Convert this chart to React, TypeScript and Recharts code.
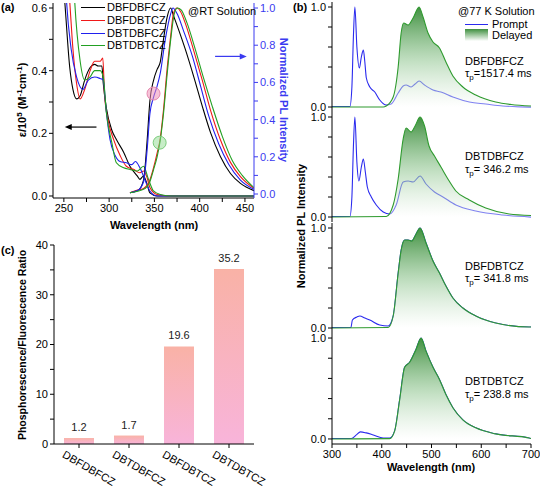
import React from "react";
import {
  LineChart,
  Line,
  XAxis,
  YAxis,
  ReferenceDot,
  ReferenceLine,
  ComposedChart,
  Area,
  BarChart,
  Bar,
  LabelList,
} from "recharts";

const FONT = "'Liberation Sans', Arial, Helvetica, sans-serif";

// ---- (a) absorption (left axis) ----
const absBFBF_x = [246, 251, 256.5, 260, 264, 268, 273, 279, 284, 288, 292, 293.5, 297, 303, 308, 316, 323, 331, 334, 338, 342, 345, 353, 370, 460];
const absBFBF_y = [0.8, 0.62, 0.41, 0.34, 0.31, 0.32, 0.37, 0.41, 0.42, 0.415, 0.415, 0.36, 0.28, 0.21, 0.18, 0.14, 0.095, 0.064, 0.053, 0.064, 0.037, 0.01, 0.0, 0.0, 0.0];
const absBFBT_x = [252, 256.5, 260, 264, 268, 273, 279, 284, 290, 293, 295, 299, 305, 312, 319, 327, 334, 338, 342, 345, 353, 370, 460];
const absBFBT_y = [0.8, 0.62, 0.47, 0.36, 0.31, 0.34, 0.4, 0.43, 0.43, 0.44, 0.32, 0.24, 0.18, 0.13, 0.095, 0.085, 0.074, 0.08, 0.058, 0.027, 0.005, 0, 0];
const absBTBF_x = [250, 253, 258, 264, 271, 277, 284, 290, 293.5, 296.5, 301, 306.5, 312, 319, 325, 329, 334, 340, 345, 353, 370, 460];
const absBTBF_y = [0.8, 0.62, 0.47, 0.38, 0.34, 0.37, 0.38, 0.375, 0.37, 0.28, 0.18, 0.13, 0.11, 0.106, 0.1, 0.11, 0.09, 0.048, 0.016, 0, 0, 0];
const absBTBT_x = [259, 262, 268, 273, 279, 284, 290, 293.5, 297, 303, 308, 316, 323, 331, 338, 343.5, 349, 356.5, 370, 460];
const absBTBT_y = [0.8, 0.62, 0.43, 0.37, 0.38, 0.4, 0.4, 0.38, 0.265, 0.17, 0.106, 0.09, 0.085, 0.08, 0.095, 0.053, 0.016, 0.005, 0, 0];

// ---- (a) emission (right axis) ----
const emBFBF_x = [323, 332, 338, 342, 345, 349, 353, 356.5, 360, 364, 368, 371, 377, 384, 393.5, 403, 412, 423, 434, 445, 460];
const emBFBF_y = [0.007, 0.02, 0.075, 0.29, 0.5, 0.61, 0.67, 0.71, 0.83, 0.95, 1.0, 0.96, 0.88, 0.78, 0.63, 0.47, 0.33, 0.2, 0.11, 0.057, 0.018];
const emBFBT_x = [323, 330.5, 338, 345, 349, 353, 356.5, 360, 364, 368, 371, 375, 379, 384, 393.5, 403, 412, 423, 434, 445, 460];
const emBFBT_y = [0.007, 0.02, 0.03, 0.075, 0.14, 0.22, 0.3, 0.45, 0.67, 0.85, 0.97, 1.0, 0.98, 0.92, 0.77, 0.61, 0.45, 0.29, 0.17, 0.093, 0.03];
const emBTBF_x = [323, 332, 338, 342, 345, 349, 353, 356.5, 362, 368, 370.5, 375, 382, 392, 401, 410, 421, 432, 445, 460];
const emBTBF_y = [0.007, 0.02, 0.066, 0.24, 0.43, 0.52, 0.58, 0.65, 0.83, 0.97, 1.0, 0.97, 0.88, 0.74, 0.58, 0.42, 0.27, 0.16, 0.075, 0.025];
const emBTBT_x = [323, 338, 345, 349, 353, 356.5, 360, 364, 368, 372, 375.5, 379.5, 386, 395, 404.5, 414, 425, 436, 447, 460];
const emBTBT_y = [0.007, 0.025, 0.066, 0.13, 0.2, 0.29, 0.43, 0.64, 0.83, 0.97, 1.0, 0.99, 0.92, 0.78, 0.62, 0.47, 0.31, 0.18, 0.1, 0.034];

const legendA = ["DBFDBFCZ", "DBFDBTCZ", "DBTDBFCZ", "DBTDBTCZ"];
const colorsA = ["#000000", "#f01818", "#2020ee", "#22a022"];

// ---- (b) 77 K prompt / delayed ----
const namesB = ["DBFDBFCZ", "DBTDBFCZ", "DBFDBTCZ", "DBTDBTCZ"];
const tauB = ["=1517.4 ms", "= 346.2 ms", "= 341.8 ms", "= 238.8 ms"];

const prompt1_x = [300, 336, 340, 343, 346, 350, 355, 359, 363, 366, 369, 376, 386, 396, 409, 419, 433, 443, 449, 459, 467, 475, 486, 503, 519, 543, 576, 609, 643, 700];
const prompt1_y = [0.005, 0.005, 0.2, 0.7, 1.0, 0.6, 0.39, 0.5, 0.57, 0.45, 0.29, 0.2, 0.15, 0.07, 0.02, 0.03, 0.14, 0.21, 0.22, 0.2, 0.23, 0.26, 0.22, 0.17, 0.15, 0.1, 0.05, 0.03, 0.01, 0.0];
const delayed1_x = [300, 403, 409, 423, 433, 439, 444, 453, 463, 475, 483, 493, 503, 516, 529, 543, 563, 589, 629, 660, 700];
const delayed1_y = [0, 0, 0.01, 0.1, 0.4, 0.74, 0.84, 0.82, 0.89, 1.0, 0.9, 0.74, 0.65, 0.59, 0.45, 0.31, 0.2, 0.12, 0.05, 0.025, 0.01];

const prompt2_x = [300, 336, 340, 343, 346, 350, 354, 359, 363, 367, 371, 379, 389, 403, 416, 429, 443, 453, 463, 477, 489, 506, 523, 549, 589, 643, 700];
const prompt2_y = [0.005, 0.005, 0.2, 0.7, 1.0, 0.55, 0.36, 0.5, 0.58, 0.45, 0.3, 0.2, 0.12, 0.05, 0.03, 0.12, 0.35, 0.36, 0.35, 0.41, 0.33, 0.25, 0.2, 0.12, 0.06, 0.02, 0.0];
const delayed2_x = [300, 409, 423, 433, 443, 449, 459, 467, 477, 486, 495, 506, 519, 533, 549, 576, 609, 656, 700];
const delayed2_y = [0, 0.005, 0.12, 0.38, 0.78, 0.89, 0.85, 0.91, 1.0, 0.91, 0.71, 0.61, 0.5, 0.38, 0.26, 0.17, 0.09, 0.03, 0.015];

const prompt3_x = [300, 338, 341, 350, 356, 366, 376, 396, 413, 423, 433, 439, 446, 453, 460, 468, 477, 489, 503, 516, 529, 543, 563, 589, 629, 696, 700];
const prompt3_y = [0.005, 0.005, 0.08, 0.11, 0.12, 0.1, 0.08, 0.03, 0.02, 0.12, 0.55, 0.78, 0.88, 0.88, 0.87, 0.93, 1.0, 0.85, 0.67, 0.55, 0.42, 0.3, 0.2, 0.12, 0.05, 0.01, 0.01];
const delayed3_x = [300, 413, 423, 433, 439, 446, 453, 460, 468, 477, 489, 503, 516, 529, 543, 563, 589, 629, 696, 700];
const delayed3_y = [0, 0.005, 0.12, 0.55, 0.78, 0.88, 0.88, 0.87, 0.93, 1.0, 0.85, 0.67, 0.55, 0.42, 0.3, 0.2, 0.12, 0.05, 0.01, 0.01];

const prompt4_x = [300, 339, 349, 357, 369, 383, 403, 416, 426, 436, 446, 456, 469, 479, 489, 503, 516, 529, 543, 563, 589, 629, 696, 700];
const prompt4_y = [0.005, 0.005, 0.04, 0.07, 0.06, 0.04, 0.01, 0.01, 0.08, 0.39, 0.71, 0.76, 0.89, 1.0, 0.87, 0.71, 0.59, 0.44, 0.31, 0.19, 0.11, 0.05, 0.01, 0.005];
const delayed4_x = [300, 416, 426, 436, 446, 456, 469, 479, 489, 503, 516, 529, 543, 563, 589, 629, 696, 700];
const delayed4_y = [0, 0.003, 0.08, 0.39, 0.71, 0.76, 0.89, 1.0, 0.87, 0.71, 0.59, 0.44, 0.31, 0.19, 0.11, 0.05, 0.01, 0.005];

// ---- (c) ratio bars ----
const namesC = ["DBFDBFCZ", "DBTDBFCZ", "DBFDBTCZ", "DBTDBTCZ"];
const ratiosC = [1.2, 1.7, 19.6, 35.2];

const zip = (xs: number[], ys: number[]) => xs.map((x, i) => ({ x, y: ys[i] }));

const absSeries = [zip(absBFBF_x, absBFBF_y), zip(absBFBT_x, absBFBT_y), zip(absBTBF_x, absBTBF_y), zip(absBTBT_x, absBTBT_y)];
const emSeries = [zip(emBFBF_x, emBFBF_y), zip(emBFBT_x, emBFBT_y), zip(emBTBF_x, emBTBF_y), zip(emBTBT_x, emBTBT_y)];
const promptB = [zip(prompt1_x, prompt1_y), zip(prompt2_x, prompt2_y), zip(prompt3_x, prompt3_y), zip(prompt4_x, prompt4_y)];
const delayedB = [zip(delayed1_x, delayed1_y), zip(delayed2_x, delayed2_y), zip(delayed3_x, delayed3_y), zip(delayed4_x, delayed4_y)];
const barData = namesC.map((name, i) => ({ name, ratio: ratiosC[i] }));

const BLUE_AX = "#3a3af0";
const PROMPT = "#2a2aee";
const DELAYED = "#2e9a2e";

function Txt({ x, y, children, size = 11, bold = false, color = "#000", rot = 0, center = false }: any) {
  return (
    <div
      style={{
        position: "absolute",
        left: x,
        top: y,
        transform: `translate(${center ? "-50%" : "0"}, -50%) rotate(${rot}deg)`,
        fontSize: size,
        fontWeight: bold ? "bold" : "normal",
        color,
        whiteSpace: "nowrap",
        lineHeight: 1,
      }}
    >
      {children}
    </div>
  );
}

const arrowShape = (color: string) => (p: any) => {
  const { x1, y1, x2, y2 } = p;
  const s = x2 > x1 ? 1 : -1;
  return (
    <g>
      <line x1={x1} y1={y1} x2={x2 - s * 4} y2={y2} stroke={color} strokeWidth={1.2} />
      <polygon points={`${x2},${y2} ${x2 - s * 7},${y2 - 3} ${x2 - s * 7},${y2 + 3}`} fill={color} />
    </g>
  );
};

const tickA = (v: number) => (v % 50 === 0 ? String(v) : "");
const tickL = (v: number) => (Math.round(v * 10) % 2 === 0 ? v.toFixed(1) : "");

function PanelA() {
  return (
    <div style={{ position: "absolute", left: 0, top: 0 }}>
      <LineChart width={300} height={240} margin={{ top: 3, right: 16, bottom: 22, left: 0 }}>
        <XAxis xAxisId="b" type="number" dataKey="x" domain={[238, 460]} allowDataOverflow ticks={[250, 275, 300, 325, 350, 375, 400, 425, 450]} interval={0} tickFormatter={tickA} tickSize={4} height={20} stroke="#000" tick={{ fontSize: 11, fill: "#000" }} />
        <XAxis xAxisId="t" orientation="top" type="number" domain={[238, 460]} height={0} tick={false} tickLine={false} stroke="#000" />
        <YAxis yAxisId="L" type="number" domain={[-0.0064, 0.616]} allowDataOverflow ticks={[0, 0.1, 0.2, 0.3, 0.4, 0.5, 0.6]} interval={0} tickFormatter={tickL} tickSize={4} width={53} stroke="#000" tick={{ fontSize: 11, fill: "#000" }} />
        <YAxis yAxisId="R" orientation="right" type="number" domain={[-0.0215, 1.027]} allowDataOverflow ticks={[0, 0.1, 0.2, 0.3, 0.4, 0.5, 0.6, 0.7, 0.8, 0.9, 1.0]} interval={0} tickFormatter={tickL} tickSize={4} width={30} stroke={BLUE_AX} tick={{ fontSize: 11, fill: BLUE_AX }} />
        {absSeries.map((d, i) => (
          <Line key={"a" + i} xAxisId="b" yAxisId="L" data={d} dataKey="y" type="monotone" stroke={colorsA[i]} strokeWidth={1.1} dot={false} isAnimationActive={false} />
        ))}
        {emSeries.map((d, i) => (
          <Line key={"e" + i} xAxisId="b" yAxisId="R" data={d} dataKey="y" type="monotone" stroke={colorsA[i]} strokeWidth={1.1} dot={false} isAnimationActive={false} />
        ))}
        <ReferenceDot xAxisId="b" yAxisId="R" x={349} y={0.54} r={6.5} fill="#f090b8" fillOpacity={0.55} stroke="#e58ab0" />
        <ReferenceDot xAxisId="b" yAxisId="R" x={355.8} y={0.276} r={6.5} fill="#8fdc8f" fillOpacity={0.5} stroke="#7ccc7c" />
        <ReferenceLine xAxisId="b" yAxisId="L" segment={[{ x: 286, y: 0.22 }, { x: 251, y: 0.22 }]} shape={arrowShape("#000")} />
        <ReferenceLine xAxisId="b" yAxisId="R" segment={[{ x: 417, y: 0.74 }, { x: 452, y: 0.74 }]} shape={arrowShape(BLUE_AX)} />
      </LineChart>
    </div>
  );
}

const bTops = [2, 112, 223, 333];
const tickB = (v: number) => (v === 0 ? "0.0" : v === 1 ? "1.0" : "");
const tickX = (v: number) => (v % 100 === 0 ? String(v) : "");

function PanelBSub({ i }: { i: number }) {
  const last = i === 3;
  const plotH = last ? 111 : 110;
  return (
    <div style={{ position: "absolute", left: 290, top: bTops[i] - 1 }}>
      <ComposedChart width={250} height={plotH + 1 + (last ? 20 : 0)} data={delayedB[i]} margin={{ top: 1, right: 9, bottom: 0, left: 0 }}>
        <defs>
          <linearGradient id={`delayedFill${i}`} x1="0" y1="0" x2="0" y2="1">
            <stop offset="0%" stopColor="#2f862f" stopOpacity={0.92} />
            <stop offset="55%" stopColor="#9ccc9c" stopOpacity={0.6} />
            <stop offset="100%" stopColor="#ffffff" stopOpacity={0.4} />
          </linearGradient>
        </defs>
        {last ? (
          <XAxis xAxisId="b" type="number" dataKey="x" domain={[300, 700]} allowDataOverflow ticks={[300, 350, 400, 450, 500, 550, 600, 650, 700]} interval={0} tickFormatter={tickX} tickSize={4} height={20} stroke="#000" tick={{ fontSize: 11, fill: "#000" }} />
        ) : (
          <XAxis xAxisId="b" type="number" dataKey="x" domain={[300, 700]} allowDataOverflow height={0} tick={false} tickLine={false} stroke="#555" />
        )}
        <XAxis xAxisId="t" orientation="top" type="number" domain={[300, 700]} height={0} tick={false} tickLine={false} stroke="#555" />
        <YAxis yAxisId="l" type="number" domain={[-0.05, 1.05]} ticks={[0, 0.2, 0.4, 0.6, 0.8, 1]} interval={0} tickFormatter={tickB} tickSize={4} width={42} stroke="#000" tick={{ fontSize: 11, fill: "#000" }} />
        <YAxis yAxisId="r" orientation="right" type="number" domain={[-0.05, 1.05]} width={0} tick={false} tickLine={false} stroke="#000" />
        <Line xAxisId="b" yAxisId="l" data={promptB[i]} dataKey="y" type="monotone" stroke={PROMPT} strokeWidth={1.1} dot={false} isAnimationActive={false} zIndex={350} />
        <Area xAxisId="b" yAxisId="l" dataKey="y" type="monotone" baseValue={0} stroke={DELAYED} strokeWidth={1.1} fill={`url(#delayedFill${i})`} fillOpacity={1} dot={false} isAnimationActive={false} zIndex={450} />
      </ComposedChart>
    </div>
  );
}

const RotTick = (props: any) => {
  const { x, y, payload } = props;
  const cx = x + 10;
  const cy = y + 18;
  return (
    <text x={cx} y={cy} textAnchor="middle" dominantBaseline="central" fontSize={11} fill="#000" transform={`rotate(30 ${cx} ${cy})`}>
      {payload.value}
    </text>
  );
};

const tickC = (v: number) => (v % 10 === 0 ? String(v) : "");

function PanelC() {
  return (
    <div style={{ position: "absolute", left: 0, top: 240 }}>
      <BarChart width={300} height={247} data={barData} margin={{ top: 5, right: 46, bottom: 1, left: 0 }} barCategoryGap="20%" style={{ overflow: "visible" }}>
        <defs>
          <linearGradient id="pinkBar" x1="0" y1="0" x2="0" y2="1">
            <stop offset="0%" stopColor="#f9b2a6" />
            <stop offset="100%" stopColor="#f8b4da" />
          </linearGradient>
        </defs>
        <XAxis dataKey="name" height={42} tick={<RotTick />} tickSize={4} stroke="#000" interval={0} />
        <XAxis xAxisId="t" dataKey="name" orientation="top" height={0} tick={false} tickLine={false} stroke="#000" />
        <YAxis type="number" domain={[0, 40]} ticks={[0, 5, 10, 15, 20, 25, 30, 35, 40]} interval={0} tickFormatter={tickC} tickSize={4} width={54} stroke="#000" tick={{ fontSize: 11, fill: "#000" }} />
        <YAxis yAxisId="r" orientation="right" type="number" domain={[0, 40]} width={0} tick={false} tickLine={false} stroke="#000" />
        <Bar dataKey="ratio" fill="url(#pinkBar)" isAnimationActive={false}>
          <LabelList dataKey="ratio" position="top" offset={7} fontSize={11} fill="#222" />
        </Bar>
      </BarChart>
    </div>
  );
}

export default function App() {
  const legY = [7, 20, 33, 45];
  const nameY = [61, 156, 266, 381];
  const tauY = [75, 171, 280, 396];
  return (
    <div style={{ position: "absolute", left: 0, top: 0, width: 540, height: 487, background: "#fff", fontFamily: FONT, overflow: "hidden" }}>
      <PanelA />
      <PanelC />
      {[0, 1, 2, 3].map((i) => (
        <PanelBSub key={i} i={i} />
      ))}

      {/* panel labels */}
      <Txt x={1} y={7} bold>(a)</Txt>
      <Txt x={293} y={7} bold>(b)</Txt>
      <Txt x={1} y={250} bold>(c)</Txt>

      {/* (a) titles, legend */}
      <Txt x={22} y={100} bold rot={-90} center>
        ε/10<sup style={{ fontSize: 8 }}>5</sup> (M<sup style={{ fontSize: 8 }}>-1</sup>cm<sup style={{ fontSize: 8 }}>-1</sup>)
      </Txt>
      <Txt x={283} y={100} bold rot={90} center color={BLUE_AX}>Normalized PL Intensity</Txt>
      <Txt x={154} y={225} bold center>Wavelength (nm)</Txt>
      {legendA.map((n, i) => (
        <React.Fragment key={n}>
          <div style={{ position: "absolute", left: 81, top: legY[i], width: 24, height: 0, borderTop: `1.2px solid ${colorsA[i]}` }} />
          <Txt x={107} y={legY[i]}>{n}</Txt>
        </React.Fragment>
      ))}
      <Txt x={188} y={11}>@RT Solution</Txt>

      {/* (b) titles, legend */}
      <Txt x={301} y={226} bold rot={-90} center>Normalized PL Intensity</Txt>
      <Txt x={431} y={467} bold center>Wavelength (nm)</Txt>
      <Txt x={458} y={11}>@77 K Solution</Txt>
      <div style={{ position: "absolute", left: 465, top: 24, width: 23, height: 0, borderTop: `1.2px solid ${PROMPT}` }} />
      <Txt x={492} y={24}>Prompt</Txt>
      <div style={{ position: "absolute", left: 465, top: 29, width: 23, height: 12, background: "linear-gradient(#3d8f3d, #ffffff)" }} />
      <Txt x={492} y={35}>Delayed</Txt>
      {namesB.map((n, i) => (
        <React.Fragment key={n}>
          <Txt x={465} y={nameY[i]}>{n}</Txt>
          <Txt x={465} y={tauY[i]}>
            τ<sub style={{ fontSize: 8 }}>p</sub>
            {tauB[i]}
          </Txt>
        </React.Fragment>
      ))}

      {/* (c) title */}
      <Txt x={22} y={345} bold rot={-90} center size={10.5}>Phosphorescence/Fluorescence Ratio</Txt>
    </div>
  );
}
